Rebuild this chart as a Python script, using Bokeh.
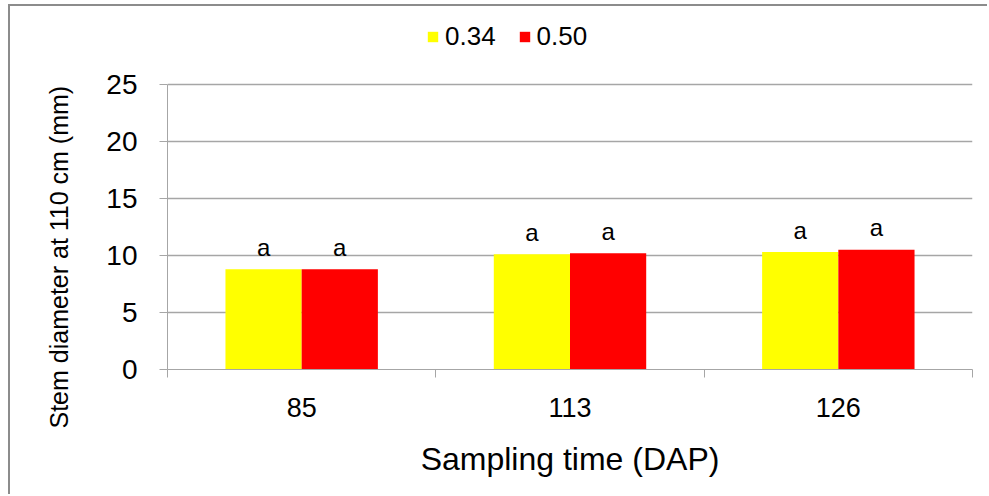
from bokeh.plotting import figure
from bokeh.models import Range1d, FixedTicker, ColumnDataSource, Legend, LegendItem, Title
from bokeh.transform import dodge
from bokeh.core.properties import value
from bokeh.embed import file_html
from bokeh.resources import INLINE

# Stem diameter at 110 cm for the two treatment levels at each sampling time
sampling_days = ["85", "113", "126"]
series_names = ["0.34", "0.50"]
diam_034 = [8.8, 10.1, 10.3]
diam_050 = [8.8, 10.2, 10.5]
letters_034 = ["a", "a", "a"]
letters_050 = ["a", "a", "a"]
y_ticks = [0, 5, 10, 15, 20, 25]
y_max = 25

FONT = "Liberation Sans"
GRID = "#a6a6a6"
BAR_W = 0.284

# frame geometry (px): the frame also holds the legend row above the 25 line
FRAME_TOP, FRAME_BOTTOM, PX_Y_MAX = 20, 369, 84
y_top = y_max * (FRAME_BOTTOM - FRAME_TOP) / (FRAME_BOTTOM - PX_Y_MAX)

centers = [i + 0.5 for i in range(len(sampling_days))]
src = ColumnDataSource(dict(
    x=centers, a=diam_034, b=diam_050, la=letters_034, lb=letters_050,
))

p = figure(
    width=979, height=490, output_backend="svg", toolbar_location=None,
    x_range=Range1d(0, len(sampling_days)), y_range=Range1d(0, y_top),
    min_border_left=157, min_border_right=17, min_border_top=FRAME_TOP - 6,
    min_border_bottom=127,
    outline_line_color=None, background_fill_color="white", border_fill_color="white",
)
# grey frame line along the left and top of the chart box
p.styles = {"border-left": "2px solid #8c8c8c", "border-top": "2px solid #8c8c8c",
            "margin-left": "8px", "margin-top": "4px"}

r1 = p.vbar(x=dodge("x", -BAR_W / 2, range=p.x_range), top="a", width=BAR_W, source=src,
            fill_color="#ffff00", line_color=None)
r2 = p.vbar(x=dodge("x", BAR_W / 2, range=p.x_range), top="b", width=BAR_W, source=src,
            fill_color="#ff0000", line_color=None)

# significance letters above each bar
for col, top, dx in (("la", "a", -BAR_W / 2), ("lb", "b", BAR_W / 2)):
    p.text(x=dodge("x", dx, range=p.x_range), y=top, text=col, source=src,
           text_align="center", text_baseline="alphabetic", y_offset=-22,
           text_font=value(FONT), text_font_size="24px", text_color="black")

# y axis, drawn only over 0..25
p.yaxis.bounds = (0, y_max)
p.yaxis.ticker = FixedTicker(ticks=y_ticks)
p.yaxis.major_label_text_font = FONT
p.yaxis.major_label_text_font_size = "28px"
p.yaxis.major_label_text_color = "black"
p.yaxis.major_label_standoff = 22
p.yaxis.major_tick_out = 8
p.yaxis.major_tick_in = 0
p.yaxis.minor_tick_line_color = None
p.yaxis.axis_line_color = GRID
p.yaxis.major_tick_line_color = GRID

# y axis title, anchored at the bottom of the text
p.add_layout(Title(text="Stem diameter at 110 cm (mm)", align="left", offset=-59,
                   text_font=FONT, text_font_size="25px", text_font_style="normal",
                   text_color="black", standoff=62), "left")

# x axis: labels at category centres, ticks at category boundaries
p.xaxis.ticker = FixedTicker(ticks=centers, minor_ticks=list(range(len(sampling_days) + 1)))
p.xaxis.major_label_overrides = {c: s for c, s in zip(centers, sampling_days)}
p.xaxis.major_tick_line_color = None
p.xaxis.major_tick_out = 0
p.xaxis.major_tick_in = 0
p.xaxis.minor_tick_out = 8
p.xaxis.minor_tick_in = 0
p.xaxis.minor_tick_line_color = GRID
p.xaxis.axis_line_color = GRID
p.xaxis.major_label_text_font = FONT
p.xaxis.major_label_text_font_size = "27px"
p.xaxis.major_label_text_color = "black"
p.xaxis.major_label_standoff = 20
p.xaxis.axis_label = "Sampling time (DAP)"
p.xaxis.axis_label_text_font = FONT
p.xaxis.axis_label_text_font_size = "32px"
p.xaxis.axis_label_text_font_style = "normal"
p.xaxis.axis_label_text_color = "black"
p.xaxis.axis_label_standoff = 21

p.xgrid.grid_line_color = None
p.ygrid.ticker = FixedTicker(ticks=y_ticks)
p.ygrid.grid_line_color = GRID
p.ygrid.grid_line_width = 1.5

legend = Legend(
    items=[LegendItem(label=series_names[0], renderers=[r1]),
           LegendItem(label=series_names[1], renderers=[r2])],
    orientation="horizontal", location=(259, 317),
    glyph_width=13, glyph_height=13, label_standoff=6, spacing=22,
    padding=0, margin=0, border_line_color=None, background_fill_alpha=0,
    label_text_font=FONT, label_text_font_size="26px", label_text_color="black",
)
p.add_layout(legend)

open("out.html", "w").write(file_html(p, INLINE))
